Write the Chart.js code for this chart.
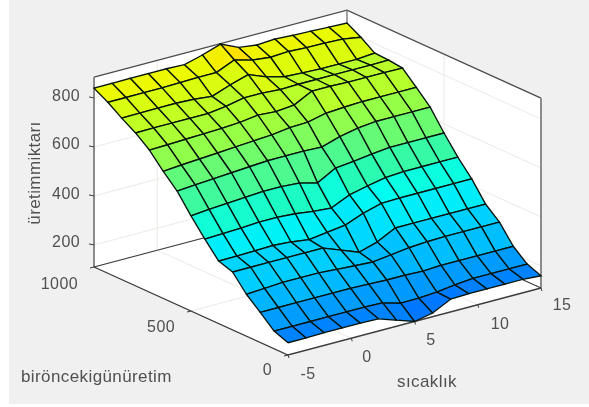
<!DOCTYPE html>
<html><head><meta charset="utf-8">
<style>html,body{margin:0;padding:0;background:#fff}canvas{display:block;filter:blur(0.55px)}</style>
<script src="https://cdn.jsdelivr.net/npm/chart.js@4"></script>
</head><body><canvas id="c" width="589" height="407"></canvas>
<script>
const sicaklik=[-5,-3.571,-2.143,-0.714,0.714,2.143,3.571,5,6.429,7.857,9.286,10.714,12.143,13.571,15];
const onceki=[0,71.4,142.9,214.3,285.7,357.1,428.6,500,571.4,642.9,714.3,785.7,857.1,928.6,1000];
const row0=[160,160,162,162,162,160,135,110,125,162,165,165,165,165,160];
const row1=[182,182,182,182,182,182,180,159,160,165,175,182,182,182,182];
const row2=[233,233,233,233,233,233,231,228,228,225,229,229,229,229,229];
const row3=[281,285,290,290,290,285,280,276,285,295,300,302,302,302,302];
const row4=[346,346,346,346,346,346,318,290,312,350,350,350,350,350,350];
const row5=[365,366,368,370,365,355,365,375,404,425,427,427,427,427,427];
const row6=[429,432,435,440,440,435,425,419,453,470,485,490,490,490,490];
const row7=[498,505,510,515,520,520,515,496,537,545,555,563,563,563,563];
const row8=[574,580,585,590,595,600,600,600,597,620,635,643,643,643,643];
const row9=[629,635,640,645,650,655,660,670,673,690,695,698,698,698,698];
const row10=[690,692,695,697,700,705,715,710,717,755,755,752,752,752,751];
const row11=[734,735,735,735,735,745,760,760,755,757,757,757,757,757,758];
const row12=[769,770,771,771,768,760,787,810,781,762,758,755,755,755,761];
const row13=[808,808,808,808,810,812,812,844,824,816,820,816,815,812,800];
const row14=[840,840,841,841,841,838,858,883,850,840,845,841,838,835,832];
const uretim=[row0,row1,row2,row3,row4,row5,row6,row7,row8,row9,row10,row11,row12,row13,row14];
const xTicks=[-5,0,5,10,15], yTicks=[0,500,1000], zTicks=[200,400,600,800];
const colorZ=[110,160,230,300,400,470,540,620,700,780,840,880];
const colorRGB=[[0,80,255],[0,120,255],[0,155,255],[0,190,255],[0,225,255],[0,255,240],[40,250,180],[90,250,130],[150,255,70],[200,255,30],[235,250,0],[255,225,0]];
const ZMIN=110,ZMAX=885;
function P(x,y,z){return{x:288+(x+5)*12.65-y*0.194,y:355-(x+5)*3.35-y*0.088-(z-ZMIN)*0.245};}
function col(z){let k=0;while(k<colorZ.length-2&&z>colorZ[k+1])k++;const t=Math.max(0,Math.min(1,(z-colorZ[k])/(colorZ[k+1]-colorZ[k])));const a=colorRGB[k],b=colorRGB[k+1];return`rgb(${[0,1,2].map(n=>Math.round(a[n]+(b[n]-a[n])*t)).join(',')})`;}
const draw=[];
function line(pts,c,w){draw.push({data:pts,showLine:true,pointRadius:0,borderColor:c,borderWidth:w,backgroundColor:'transparent',tension:0});}
function poly(pts,fc){draw.push({data:[...pts,pts[0]],showLine:true,pointRadius:0,borderWidth:0,borderColor:fc,backgroundColor:fc,polyFill:true,tension:0});}
const x0=-5,x1=15,y0=0,y1=1000;
poly([P(x0,y1,ZMIN),P(x0,y1,ZMAX),P(x1,y1,ZMAX),P(x1,y1,ZMIN)],'#fff');
poly([P(x1,y1,ZMIN),P(x1,y1,ZMAX),P(x1,y0,ZMAX),P(x1,y0,ZMIN)],'#fff');
poly([P(x0,y0,ZMIN),P(x1,y0,ZMIN),P(x1,y1,ZMIN),P(x0,y1,ZMIN)],'#fff');
const G='#eceae6';
zTicks.forEach(z=>{line([P(x0,y1,z),P(x1,y1,z)],G,1);line([P(x1,y1,z),P(x1,y0,z)],G,1);});
xTicks.forEach(x=>{line([P(x,y1,ZMIN),P(x,y1,ZMAX)],G,1);line([P(x,y0,ZMIN),P(x,y1,ZMIN)],G,1);});
yTicks.forEach(y=>{line([P(x1,y,ZMIN),P(x1,y,ZMAX)],G,1);line([P(x0,y,ZMIN),P(x1,y,ZMIN)],G,1);});
const D='#3c3c3c',M='#808080';
line([P(x0,y1,ZMAX),P(x1,y1,ZMAX),P(x1,y0,ZMAX)],'#4c4c4c',1.4);
line([P(x0,y1,ZMIN),P(x0,y1,ZMAX)],M,1.8);
line([P(x1,y0,ZMIN),P(x1,y0,ZMAX)],M,1.8);
line([P(x1,y1,ZMIN),P(x1,y1,ZMAX)],M,1.4);
line([P(x0,y1,ZMIN),P(x1,y1,ZMIN)],D,1.2);
line([P(x1,y1,ZMIN),P(x1,y0,ZMIN)],D,1.2);
line([P(x0,y1,ZMIN),P(x0,y0,ZMIN),P(x1,y0,ZMIN)],D,1.3);
zTicks.forEach(z=>{const p=P(x0,y1,z);line([p,{x:p.x-5,y:p.y-1}],D,1);});
xTicks.forEach(x=>{const p=P(x,y0,ZMIN);line([p,{x:p.x+1,y:p.y+3}],D,1);});
yTicks.forEach(y=>{const p=P(x0,y,ZMIN);line([p,{x:p.x-4,y:p.y+1}],D,1);});
const cells=[];
for(let j=0;j<14;j++)for(let i=0;i<14;i++)cells.push([i,j]);
cells.sort((a,b)=>(b[0]+b[1])-(a[0]+a[1]));
cells.forEach(([i,j])=>{
 const q=[P(sicaklik[i],onceki[j],uretim[j][i]),P(sicaklik[i+1],onceki[j],uretim[j][i+1]),P(sicaklik[i+1],onceki[j+1],uretim[j+1][i+1]),P(sicaklik[i],onceki[j+1],uretim[j+1][i])];
 const fc=col(uretim[j+1][i]);
 draw.push({data:[...q,q[0]],showLine:true,pointRadius:0,borderColor:'#06140e',borderWidth:1.35,backgroundColor:fc,polyFill:true,tension:0});
});
draw.reverse();
const tickText=[
 {t:'800',x:80,y:97,a:'right'},{t:'600',x:80,y:145,a:'right'},{t:'400',x:80,y:195,a:'right'},{t:'200',x:80,y:243,a:'right'},
 {t:'1000',x:78,y:285,a:'right'},{t:'500',x:175,y:328,a:'right'},{t:'0',x:272,y:371,a:'right'},
 {t:'-5',x:308,y:375,a:'center'},{t:'0',x:367,y:358,a:'center'},{t:'5',x:431,y:341,a:'center'},{t:'10',x:500,y:325,a:'center'},{t:'15',x:562,y:306,a:'center'}];
const nameText=[{t:'sıcaklık',x:427,y:382,a:'center'},{t:'birönceki\u0067ünüretim',x:21,y:377,a:'left'}];
const plug={id:'surfacePlug',
 beforeDraw(ch){const c=ch.ctx;c.save();c.fillStyle='#fff';c.fillRect(0,0,589,407);c.fillStyle='#f0f0f0';c.fillRect(9,0,580,404);c.restore();},
 beforeDatasetDraw(ch,a){const ds=ch.data.datasets[a.index];if(!ds.polyFill)return;const pts=a.meta.data,c=ch.ctx;c.save();c.beginPath();pts.forEach((p,k)=>k?c.lineTo(p.x,p.y):c.moveTo(p.x,p.y));c.closePath();c.fillStyle=ds.backgroundColor;c.fill();c.restore();},
 afterDraw(ch){const c=ch.ctx;c.save();c.fillStyle='#505050';c.font='16px "Liberation Sans"';c.letterSpacing='0.4px';c.textBaseline='middle';
  tickText.forEach(l=>{c.textAlign=l.a;c.fillText(l.t,l.x,l.y);});
  c.font='17px "Liberation Sans"';
  nameText.forEach(l=>{c.textAlign=l.a;c.fillText(l.t,l.x,l.y);});
  c.translate(35,173);c.rotate(-Math.PI/2);c.textAlign='center';c.fillText('üretimmiktarı',0,0);c.restore();}};
new Chart(document.getElementById('c'),{type:'scatter',data:{datasets:draw},plugins:[plug],options:{
 responsive:false,animation:false,events:[],clip:false,layout:{padding:0},
 plugins:{legend:{display:false},tooltip:{enabled:false}},
 scales:{x:{type:'linear',min:0,max:589,display:false},y:{type:'linear',min:0,max:407,reverse:true,display:false}}}});
</script></body></html>
